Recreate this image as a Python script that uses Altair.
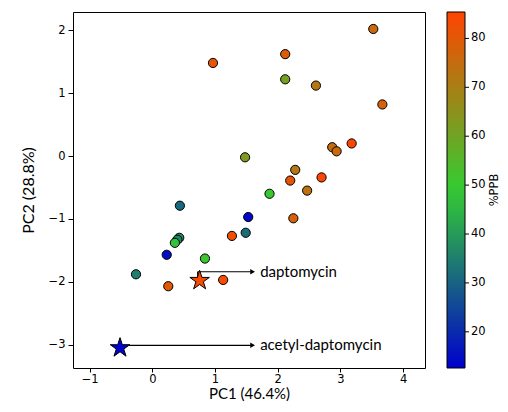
import altair as alt
import pandas as pd

pc1 = [3.525, 0.968, 2.12, 2.12, 2.61, 3.67, 3.18, 2.87, 2.94, 1.48, 2.28, 2.20, 2.70, 1.87, 2.47,
       0.44, 1.53, 2.25, 1.49, 1.27, 0.43, 0.40, 0.36, 0.23, 0.84, -0.26, 1.13, 0.255]
pc2 = [2.02, 1.48, 1.62, 1.22, 1.12, 0.82, 0.20, 0.14, 0.075, -0.02, -0.22, -0.39, -0.34, -0.60, -0.55,
       -0.79, -0.97, -0.99, -1.22, -1.27, -1.30, -1.33, -1.38, -1.57, -1.63, -1.88, -1.97, -2.07]
ppb = [76, 81, 79, 61, 72, 78, 85, 75, 76, 63, 72, 81, 85, 50, 74,
       31, 14, 78, 32, 83, 38, 36, 47, 15, 51, 35, 84, 80]

star_names = ["daptomycin", "acetyl-daptomycin"]
star_pc1 = [0.755, -0.515]
star_pc2 = [-1.98, -3.05]
star_ppb = [84, 13]

label_x = [1.72, 1.72]
label_y = [-1.84, -3.01]
arrow_x1 = [0.724, -0.515]
arrow_x2 = [1.60, 1.60]

x_ticks = [-1, 0, 1, 2, 3, 4]
y_ticks = [-3, -2, -1, 0, 1, 2]
cbar_ticks = [20, 30, 40, 50, 60, 70, 80]
cbar_domain = [12.6, 85.4]

pts = pd.DataFrame({"pc1": pc1, "pc2": pc2, "ppb": ppb})
stars = pd.DataFrame({"name": star_names, "pc1": star_pc1, "pc2": star_pc2, "ppb": star_ppb})
ann = pd.DataFrame({"name": star_names, "x1": arrow_x1, "x2": arrow_x2, "y": label_y,
                    "lx": label_x, "sy": star_pc2})
cb = pd.DataFrame({"v": cbar_ticks})
cbt = pd.DataFrame({"t": ["%PPB"]})

xs = alt.Scale(domain=[-1.265, 4.35], nice=False, zero=False)
ys = alt.Scale(domain=[-3.37, 2.29], nice=False, zero=False)
cs = alt.Scale(domain=[12.6, 49.0, 85.4], range=["#0000cd", "#32cd32", "#ff4500"], interpolate="rgb")

X = alt.X("pc1:Q", scale=xs, axis=alt.Axis(values=x_ticks, format="d", title="PC1 (46.4%)"))
Y = alt.Y("pc2:Q", scale=ys, axis=alt.Axis(values=y_ticks, format="d", title="PC2 (28.8%)"))
Yn = alt.Y("pc2:Q", scale=ys, axis=None)

circles = alt.Chart(pts).mark_point(filled=True, shape="circle", size=85, stroke="black",
                                     strokeWidth=1, opacity=1).encode(
    x=X, y=Y,
    color=alt.Color("ppb:Q", scale=cs,
                    legend=alt.Legend(title=None, values=cbar_ticks, orient="none",
                                      legendX=374, legendY=0, direction="vertical",
                                      gradientLength=356, gradientThickness=18,
                                      gradientStrokeColor="black", gradientStrokeWidth=1,
                                      labelFont="DejaVu Sans", labelFontSize=11.5, labelColor="black",
                                      labelOffset=6))
)

vline = alt.Chart(ann).transform_filter(alt.datum.name == "daptomycin").mark_rule(
    color="black", strokeWidth=1.2).encode(
    x=alt.X("x1:Q", scale=xs), y=alt.Y("y:Q", scale=ys, axis=None), y2="sy:Q")

hline = alt.Chart(ann).mark_rule(color="black", strokeWidth=1.2).encode(
    x=alt.X("x1:Q", scale=xs), x2="x2:Q", y=alt.Y("y:Q", scale=ys, axis=None))

heads = alt.Chart(ann).mark_point(shape="triangle-right", filled=True, color="black",
                                   size=30, opacity=1).encode(
    x=alt.X("x2:Q", scale=xs), y=alt.Y("y:Q", scale=ys, axis=None))

star_path = ("M0,-1L0.2245,-0.309L0.951,-0.309L0.363,0.118L0.588,0.809L0,0.382"
             "L-0.588,0.809L-0.363,0.118L-0.951,-0.309L-0.2245,-0.309Z")
star_marks = alt.Chart(stars).mark_point(shape=star_path, filled=True, size=420, stroke="black",
                                         strokeWidth=1, opacity=1).encode(
    x=X, y=Yn, color=alt.Color("ppb:Q", scale=cs, legend=None))

labels = alt.Chart(ann).mark_text(align="left", baseline="middle", font="Lato", fontSize=15,
                                  color="black").encode(
    x=alt.X("lx:Q", scale=xs), y=alt.Y("y:Q", scale=ys, axis=None), text="name:N")

cb_ticks = alt.Chart(cb).mark_rule(color="black", strokeWidth=1).encode(
    x=alt.value(374 + 18), x2=alt.value(374 + 18 + 4),
    y=alt.Y("v:Q", scale=alt.Scale(domain=cbar_domain, nice=False, zero=False), axis=None))

cb_title = alt.Chart(cbt).mark_text(angle=270, font="DejaVu Sans", fontSize=11.5, color="black",
                                    align="center", baseline="middle").encode(
    x=alt.value(421.5), y=alt.value(178), text="t:N")

chart = alt.layer(circles, vline, hline, heads, star_marks, labels, cb_ticks, cb_title).resolve_scale(
    y="independent"
).properties(
    width=352, height=356,
    autosize=alt.AutoSizeParams(type="none"),
    padding={"left": 65, "top": 4, "right": 75, "bottom": 36},
).configure_view(stroke="black", strokeWidth=1).configure_axis(
    grid=False, domain=False, ticks=True, tickColor="black", tickSize=5, tickWidth=1,
    labelFont="DejaVu Sans", labelFontSize=11.5, labelColor="black", labelPadding=3,
    titleFont="Lato", titleFontSize=16, titleFontWeight="normal", titleColor="black",
).configure_axisX(tickSize=4, titlePadding=2, labelPadding=1, titleFontSize=15).configure_axisY(titlePadding=12)

chart.save("out.html", embed_options={"renderer": "svg", "actions": False})
